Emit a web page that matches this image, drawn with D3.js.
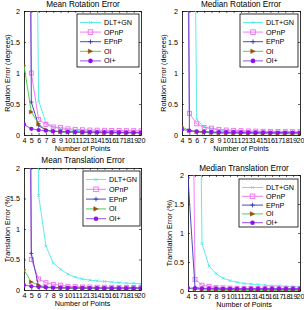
<!DOCTYPE html>
<html><head><meta charset="utf-8">
<script src="https://cdn.jsdelivr.net/npm/d3@7"></script>
<style>body{margin:0;background:#fff}svg{display:block;font-family:"Liberation Sans",Arial,sans-serif}</style>
</head><body>
<script>
const points = [4,5,6,7,8,9,10,11,12,13,14,15,16,17,18,19,20];
const methods = ["DLT+GN","OPnP","EPnP","OI","OI+"];
const yTicks = [0,0.5,1,1.5,2];
const titles = ["Mean Rotation Error","Median Rotation Error","Mean Translation Error","Median Translation Error"];
const yLabels = ["Rotation Error (degrees)","Rotation Error (degrees)","Translation Error (%)","Translation Error (%)"];

const meanRot = {
  "DLT+GN":[30,12,0.55,0.2,0.13,0.1,0.085,0.075,0.07,0.065,0.06,0.058,0.055,0.053,0.05,0.05,0.048],
  "OPnP":[12,1.0,0.25,0.17,0.13,0.12,0.1,0.09,0.085,0.08,0.078,0.075,0.073,0.072,0.07,0.07,0.068],
  "EPnP":[25,0.53,0.15,0.08,0.06,0.055,0.05,0.048,0.046,0.045,0.044,0.043,0.042,0.041,0.04,0.04,0.04],
  "OI":[1.12,0.37,0.18,0.08,0.06,0.05,0.045,0.04,0.038,0.036,0.035,0.034,0.033,0.032,0.031,0.03,0.03],
  "OI+":[0.17,0.1,0.08,0.07,0.06,0.055,0.05,0.048,0.046,0.045,0.044,0.043,0.042,0.041,0.04,0.04,0.04]
};
const medRot = {
  "DLT+GN":[30,12,0.25,0.13,0.1,0.08,0.07,0.06,0.055,0.05,0.048,0.046,0.044,0.042,0.04,0.04,0.04],
  "OPnP":[12,0.35,0.18,0.12,0.11,0.09,0.08,0.075,0.07,0.065,0.062,0.06,0.058,0.056,0.055,0.054,0.053],
  "EPnP":[25,0.07,0.05,0.045,0.04,0.038,0.036,0.035,0.034,0.033,0.032,0.031,0.03,0.03,0.03,0.03,0.03],
  "OI":[0.13,0.07,0.05,0.04,0.035,0.03,0.028,0.026,0.025,0.024,0.023,0.022,0.021,0.02,0.02,0.02,0.02],
  "OI+":[0.09,0.07,0.06,0.055,0.05,0.048,0.046,0.045,0.044,0.043,0.042,0.041,0.04,0.04,0.04,0.04,0.04]
};
const meanTrans = {
  "DLT+GN":[30,12,1.55,0.72,0.44,0.34,0.26,0.21,0.18,0.16,0.15,0.14,0.13,0.12,0.11,0.11,0.1],
  "OPnP":[12,0.5,0.18,0.12,0.09,0.08,0.06,0.055,0.05,0.048,0.046,0.045,0.044,0.043,0.042,0.041,0.04],
  "EPnP":[25,0.6,0.06,0.04,0.035,0.033,0.032,0.031,0.03,0.03,0.03,0.03,0.03,0.03,0.03,0.03,0.03],
  "OI":[0.33,0.13,0.08,0.05,0.04,0.035,0.03,0.028,0.026,0.025,0.024,0.023,0.022,0.021,0.02,0.02,0.02],
  "OI+":[0.08,0.06,0.05,0.045,0.04,0.038,0.036,0.035,0.034,0.033,0.032,0.031,0.03,0.03,0.03,0.03,0.03]
};
const medTrans = {
  "DLT+GN":[30,12,0.82,0.43,0.3,0.22,0.18,0.15,0.13,0.12,0.11,0.1,0.09,0.09,0.08,0.08,0.07],
  "OPnP":[12,0.2,0.1,0.08,0.06,0.055,0.05,0.048,0.046,0.045,0.044,0.043,0.042,0.041,0.04,0.04,0.04],
  "EPnP":[1.95,0.06,0.04,0.035,0.03,0.03,0.03,0.03,0.03,0.03,0.03,0.03,0.03,0.03,0.03,0.03,0.03],
  "OI":[0.05,0.03,0.02,0.015,0.012,0.01,0.01,0.01,0.01,0.01,0.01,0.01,0.01,0.01,0.01,0.01,0.01],
  "OI+":[0.05,0.05,0.045,0.045,0.044,0.043,0.042,0.041,0.04,0.04,0.04,0.04,0.04,0.04,0.04,0.04,0.04]
};
const panelData = [meanRot, medRot, meanTrans, medTrans];

const styles = {
  "DLT+GN":{line:"#4ee8e8", marker:"x", fill:"none", stroke:"#4ee8e8"},
  "OPnP":{line:"#f070f0", marker:"square", fill:"none", stroke:"#f070f0"},
  "EPnP":{line:"#3838b8", marker:"plus", fill:"none", stroke:"#3838b8"},
  "OI":{line:"#40c840", marker:"tri", fill:"#b04010", stroke:"#806000"},
  "OI+":{line:"#8a40e0", marker:"dot", fill:"#9010f0", stroke:"#9010f0"}
};

const layouts = [
  {l:24,r:141,t:11,b:135,tx:83,ty:7,ylx:7,leg:{x:77,y:14,w:62,h:53,tx:104,dy:9.6}},
  {l:182,r:300,t:11,b:135,tx:241,ty:7,ylx:163,leg:{x:240,y:14,w:58,h:53,tx:266,dy:9.6}},
  {l:24,r:141,t:168,b:290,tx:83,ty:163,ylx:7,leg:{x:83,y:171,w:57,h:55,tx:109,dy:9.8}},
  {l:188,r:300,t:175,b:291,tx:244,ty:171,ylx:169,leg:{x:239,y:179,w:59,h:48,tx:266,dy:8.8}}
];

const svg = d3.select("body").append("svg").attr("width",304).attr("height",310);
const defs = svg.append("defs");

function drawMarker(g, type, x, y, st, s){
  if(type==="x"){
    g.append("path").attr("d",`M${x-s},${y-s}L${x+s},${y+s}M${x-s},${y+s}L${x+s},${y-s}`).attr("stroke",st.stroke).attr("stroke-width",0.8);
  } else if(type==="square"){
    g.append("rect").attr("x",x-s).attr("y",y-s).attr("width",2*s).attr("height",2*s).attr("fill","none").attr("stroke",st.stroke).attr("stroke-width",0.9);
  } else if(type==="plus"){
    g.append("path").attr("d",`M${x-s},${y}L${x+s},${y}M${x},${y-s}L${x},${y+s}`).attr("stroke",st.stroke).attr("stroke-width",0.9);
  } else if(type==="tri"){
    g.append("path").attr("d",`M${x-s},${y-s}L${x+s},${y}L${x-s},${y+s}Z`).attr("fill",st.fill).attr("stroke",st.stroke).attr("stroke-width",0.4);
  } else if(type==="dot"){
    g.append("circle").attr("cx",x).attr("cy",y).attr("r",s).attr("fill",st.fill);
  }
}

layouts.forEach((L,i)=>{
  const data = panelData[i];
  const x = d3.scaleLinear().domain([4,20]).range([L.l,L.r]);
  const y = d3.scaleLinear().domain([0,2]).range([L.b,L.t]);
  const g = svg.append("g");
  const cid = "clip"+i;
  defs.append("clipPath").attr("id",cid).append("rect").attr("x",L.l).attr("y",L.t).attr("width",L.r-L.l).attr("height",L.b-L.t);

  // axes (ticks inward)
  const ax = g.append("g").attr("transform",`translate(0,${L.b})`).call(d3.axisBottom(x).tickValues(points).tickFormat(d3.format("d")).tickSizeInner(-2).tickSizeOuter(0).tickPadding(4));
  const ay = g.append("g").attr("transform",`translate(${L.l},0)`).call(d3.axisLeft(y).tickValues(yTicks).tickFormat(d=>d).tickSizeInner(-2).tickSizeOuter(0).tickPadding(4));
  const axT = g.append("g").attr("transform",`translate(0,${L.t})`).call(d3.axisTop(x).tickValues(points).tickFormat("").tickSizeInner(-2).tickSizeOuter(0));
  const ayR = g.append("g").attr("transform",`translate(${L.r},0)`).call(d3.axisRight(y).tickValues(yTicks).tickFormat("").tickSizeInner(-2).tickSizeOuter(0));
  [ax,ay,axT,ayR].forEach(a=>{
    a.selectAll("path").attr("stroke","#000").attr("stroke-width",0.8);
    a.selectAll("line").attr("stroke","#000").attr("stroke-width",0.6);
    a.selectAll("text").attr("fill","#000").attr("font-size",7.2).attr("font-family","Liberation Sans, Arial, sans-serif");
  });
  ax.selectAll("text").attr("dy","0.6em");

  const plot = g.append("g").attr("clip-path",`url(#${cid})`);
  methods.forEach(m=>{
    const st = styles[m];
    const vals = data[m];
    const line = d3.line().x((d,k)=>x(points[k])).y(d=>y(d));
    plot.append("path").datum(vals).attr("d",line).attr("fill","none").attr("stroke",st.line).attr("stroke-width",0.9);
    const mg = plot.append("g");
    vals.forEach((v,k)=>{
      drawMarker(mg, st.marker, x(points[k]), y(v), st, st.marker==="dot"?2.1:(st.marker==="x"?1.4:2));
    });
  });

  // title
  g.append("text").attr("x",L.tx).attr("y",L.ty).attr("text-anchor","middle").attr("font-size",8.2).attr("fill","#000").text(titles[i]);
  // x label
  g.append("text").attr("x",(L.l+L.r)/2).attr("y",L.b+16).attr("text-anchor","middle").attr("font-size",7.2).attr("fill","#000").text("Number of Points");
  // y label
  g.append("text").attr("transform",`translate(${L.ylx},${(L.t+L.b)/2}) rotate(-90)`).attr("text-anchor","middle").attr("dy","0.35em").attr("font-size",7.2).attr("fill","#000").text(yLabels[i]);

  // legend
  const lg = L.leg;
  g.append("rect").attr("x",lg.x).attr("y",lg.y).attr("width",lg.w).attr("height",lg.h).attr("fill","#fff").attr("stroke","#000").attr("stroke-width",0.8);
  methods.forEach((m,k)=>{
    const st = styles[m];
    const yy = lg.y + 8.5 + k*lg.dy;
    g.append("line").attr("x1",lg.x+3).attr("x2",lg.tx-3).attr("y1",yy).attr("y2",yy).attr("stroke",st.line).attr("stroke-width",0.9);
    drawMarker(g, st.marker, (lg.x+lg.tx)/2, yy, st, st.marker==="dot"?2.3:(st.marker==="x"?1.4:2.3));
    g.append("text").attr("x",lg.tx).attr("y",yy).attr("dy","0.35em").attr("font-size",7.2).attr("fill","#000").text(m);
  });
});
</script>
</body></html>
